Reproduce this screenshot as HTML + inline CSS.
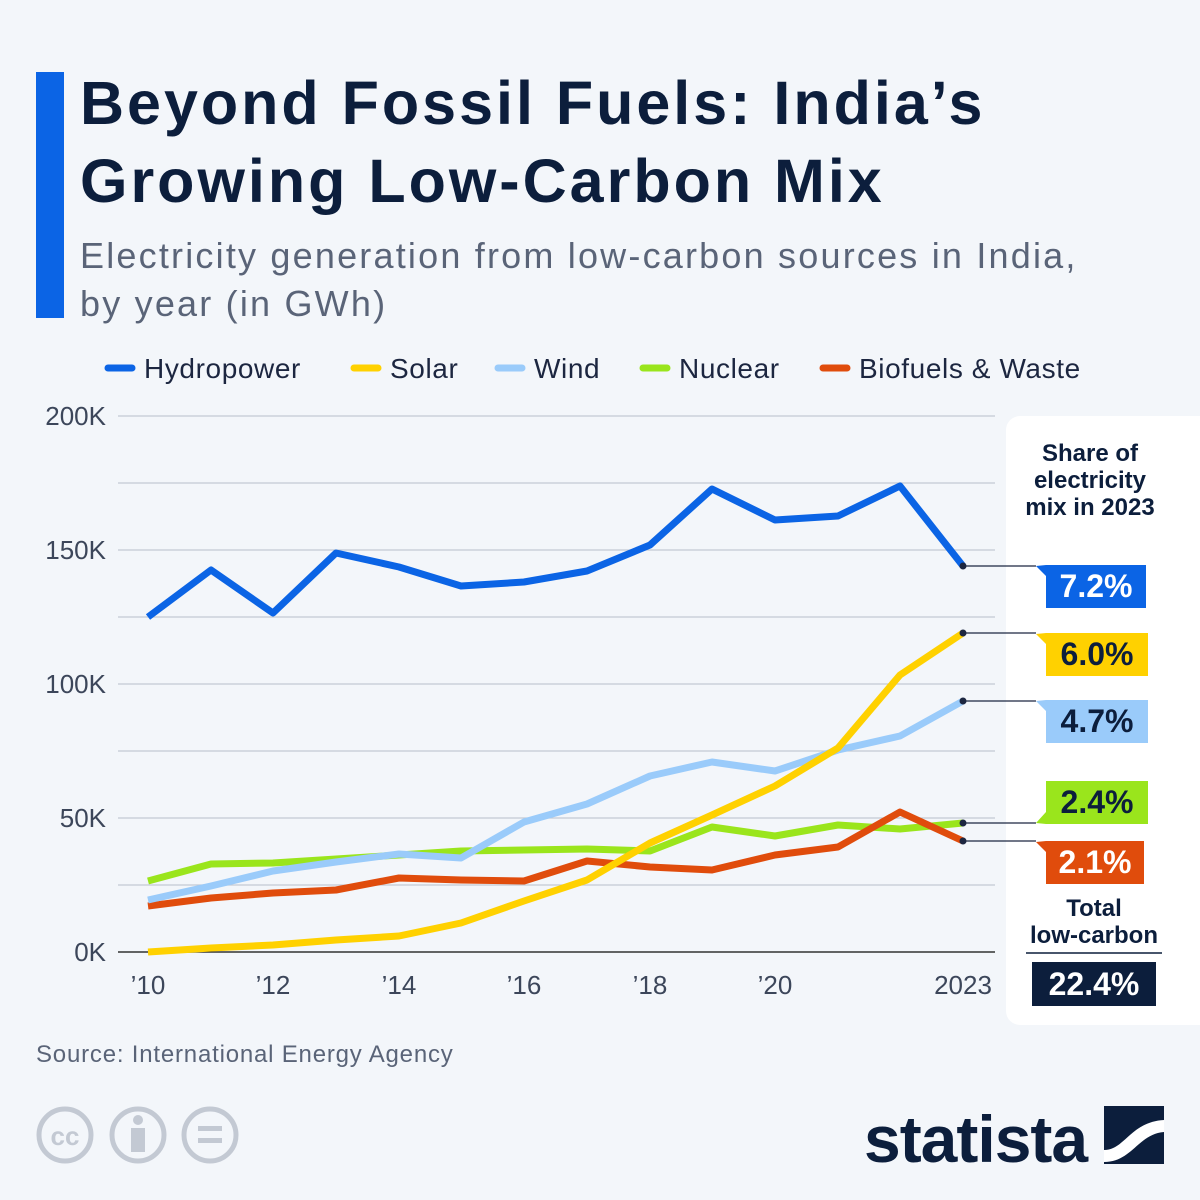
<!DOCTYPE html>
<html><head><meta charset="utf-8"><style>
body{margin:0;width:1200px;height:1200px;background:#f3f6fa;font-family:"Liberation Sans","DejaVu Sans",sans-serif;overflow:hidden;position:relative}
.t{position:absolute}
</style></head><body>
<div class="t" style="left:36px;top:72px;width:28px;height:246px;background:#0b64e5"></div>
<div class="t" style="left:80px;top:64px;font-size:61px;font-weight:bold;color:#0c1e3c;line-height:78px;letter-spacing:3px;white-space:nowrap">Beyond Fossil Fuels: India’s<br>Growing Low-Carbon Mix</div>
<div class="t" style="left:80px;top:232px;font-size:36px;color:#5a6478;line-height:48px;letter-spacing:2.2px;white-space:nowrap">Electricity generation from low-carbon sources in India,<br>by year (in GWh)</div>
<svg class="t" style="left:0;top:0" width="1200" height="1200">
<g font-size="28" fill="#1c2640" letter-spacing="0.6">
<line x1="108" y1="368" x2="132" y2="368" stroke="#0b64e5" stroke-width="7" stroke-linecap="round"/><text x="144" y="378">Hydropower</text>
<line x1="354" y1="368" x2="378" y2="368" stroke="#ffd100" stroke-width="7" stroke-linecap="round"/><text x="390" y="378">Solar</text>
<line x1="498" y1="368" x2="522" y2="368" stroke="#9acbfa" stroke-width="7" stroke-linecap="round"/><text x="534" y="378">Wind</text>
<line x1="643" y1="368" x2="667" y2="368" stroke="#9ae51c" stroke-width="7" stroke-linecap="round"/><text x="679" y="378">Nuclear</text>
<line x1="823" y1="368" x2="847" y2="368" stroke="#e04c0c" stroke-width="7" stroke-linecap="round"/><text x="859" y="378">Biofuels &amp; Waste</text>
</g>
<g stroke="#c3c9d3" stroke-width="1.2">
<line x1="118" y1="416" x2="995" y2="416"/><line x1="118" y1="483" x2="995" y2="483"/><line x1="118" y1="550" x2="995" y2="550"/><line x1="118" y1="617" x2="995" y2="617"/><line x1="118" y1="684" x2="995" y2="684"/><line x1="118" y1="751" x2="995" y2="751"/><line x1="118" y1="818" x2="995" y2="818"/><line x1="118" y1="885" x2="995" y2="885"/>
</g>
<line x1="118" y1="952" x2="995" y2="952" stroke="#333" stroke-width="1.5"/>
<g font-size="26" fill="#3c465a" text-anchor="end">
<text x="106" y="425">200K</text><text x="106" y="559">150K</text><text x="106" y="693">100K</text><text x="106" y="827">50K</text><text x="106" y="961">0K</text>
</g>
<g font-size="26" fill="#3c465a" text-anchor="middle">
<text x="148" y="994">’10</text><text x="273" y="994">’12</text><text x="399" y="994">’14</text><text x="524" y="994">’16</text><text x="650" y="994">’18</text><text x="775" y="994">’20</text><text x="963" y="994">2023</text>
</g>
<rect x="1006" y="416" width="210" height="609" rx="14" fill="#fff"/>
<g fill="none" stroke-width="7" stroke-linejoin="round" stroke-linecap="butt">
<polyline stroke="#9ae51c" points="148,881 211,864 273,863 336,859 399,855 461,851 524,850 587,849 650,851 712,827 775,836 838,825 900,829 963,823"/>
<polyline stroke="#e04c0c" points="148,906 211,898 273,893 336,890 399,878 461,880 524,881 587,861 650,867 712,870 775,855 838,847 900,812 963,841"/>
<polyline stroke="#9acbfa" points="148,900 211,886 273,871 336,862 399,854 461,858 524,822 587,804 650,776 712,762 775,771 838,750 900,736 963,701"/>
<polyline stroke="#ffd100" points="148,952 211,948 273,945 336,940 399,936 461,923 524,901 587,880 650,843 712,815 775,786 838,748 900,675 963,633"/>
<polyline stroke="#0b64e5" points="148,617 211,570 273,613 336,553 399,567 461,586 524,582 587,571 650,545 712,489 775,520 838,516 900,486 963,566"/>
</g>
<g stroke="#1c2640" stroke-width="1.3">
<line x1="963" y1="566" x2="1036" y2="566"/><line x1="963" y1="633" x2="1036" y2="633"/><line x1="963" y1="701" x2="1036" y2="701"/><line x1="963" y1="823" x2="1036" y2="823"/><line x1="963" y1="841" x2="1036" y2="841"/>
</g>
<g fill="#1c2640"><circle cx="963" cy="566" r="3.5"/><circle cx="963" cy="633" r="3.5"/><circle cx="963" cy="701" r="3.5"/><circle cx="963" cy="823" r="3.5"/><circle cx="963" cy="841" r="3.5"/></g>
<g font-size="32" font-weight="bold" text-anchor="middle">
<path d="M1046,565 H1146 V608 H1046 V576 L1036,566 Z" fill="#0b64e5"/><text x="1096" y="597" fill="#fff">7.2%</text>
<path d="M1046,633 H1148 V676 H1046 V644 L1036,634 Z" fill="#ffd100"/><text x="1097" y="665" fill="#0c1e3c">6.0%</text>
<path d="M1046,700 H1148 V743 H1046 V711 L1036,701 Z" fill="#9acbfa"/><text x="1097" y="732" fill="#0c1e3c">4.7%</text>
<path d="M1046,781 H1148 V824 H1046 V824 L1036,823 L1046,812 Z" fill="#9ae51c"/><text x="1097" y="813" fill="#0c1e3c">2.4%</text>
<path d="M1046,841 H1144 V884 H1046 V852 L1036,842 Z" fill="#e04c0c"/><text x="1095" y="873" fill="#fff">2.1%</text>
<rect x="1032" y="962" width="124" height="44" fill="#0c1e3c"/><text x="1094" y="995" fill="#fff">22.4%</text>
</g>
<g font-size="24" font-weight="bold" fill="#0c1e3c" text-anchor="middle">
<text x="1090" y="461">Share of</text><text x="1090" y="488">electricity</text><text x="1090" y="515">mix in 2023</text>
<text x="1094" y="916">Total</text><text x="1094" y="943">low-carbon</text>
</g>
<line x1="1026" y1="953" x2="1162" y2="953" stroke="#0c1e3c" stroke-width="1.5"/>
<text x="36" y="1062" font-size="24" fill="#5a6478" letter-spacing="0.8">Source: International Energy Agency</text>
<g fill="none" stroke="#c3c9d3" stroke-width="5">
<circle cx="65" cy="1135" r="26"/><circle cx="138" cy="1135" r="26"/><circle cx="210" cy="1135" r="26"/>
</g>
<text x="65" y="1145" font-size="26" font-weight="bold" fill="#c3c9d3" text-anchor="middle">cc</text>
<g fill="#c3c9d3"><circle cx="138" cy="1120" r="5"/><rect x="131" y="1128" width="14" height="24"/><rect x="198" y="1126" width="24" height="5"/><rect x="198" y="1138" width="24" height="5"/></g>
<text x="864" y="1162" font-size="66" font-weight="bold" fill="#0c1e3c" letter-spacing="-1">statista</text>
<rect x="1104" y="1106" width="60" height="58" fill="#0c1e3c"/>
<path d="M1104,1150 C1125,1150 1130,1122 1164,1120 L1164,1132 C1138,1134 1132,1162 1104,1162 Z" fill="#fff"/>
</svg>
</body></html>
